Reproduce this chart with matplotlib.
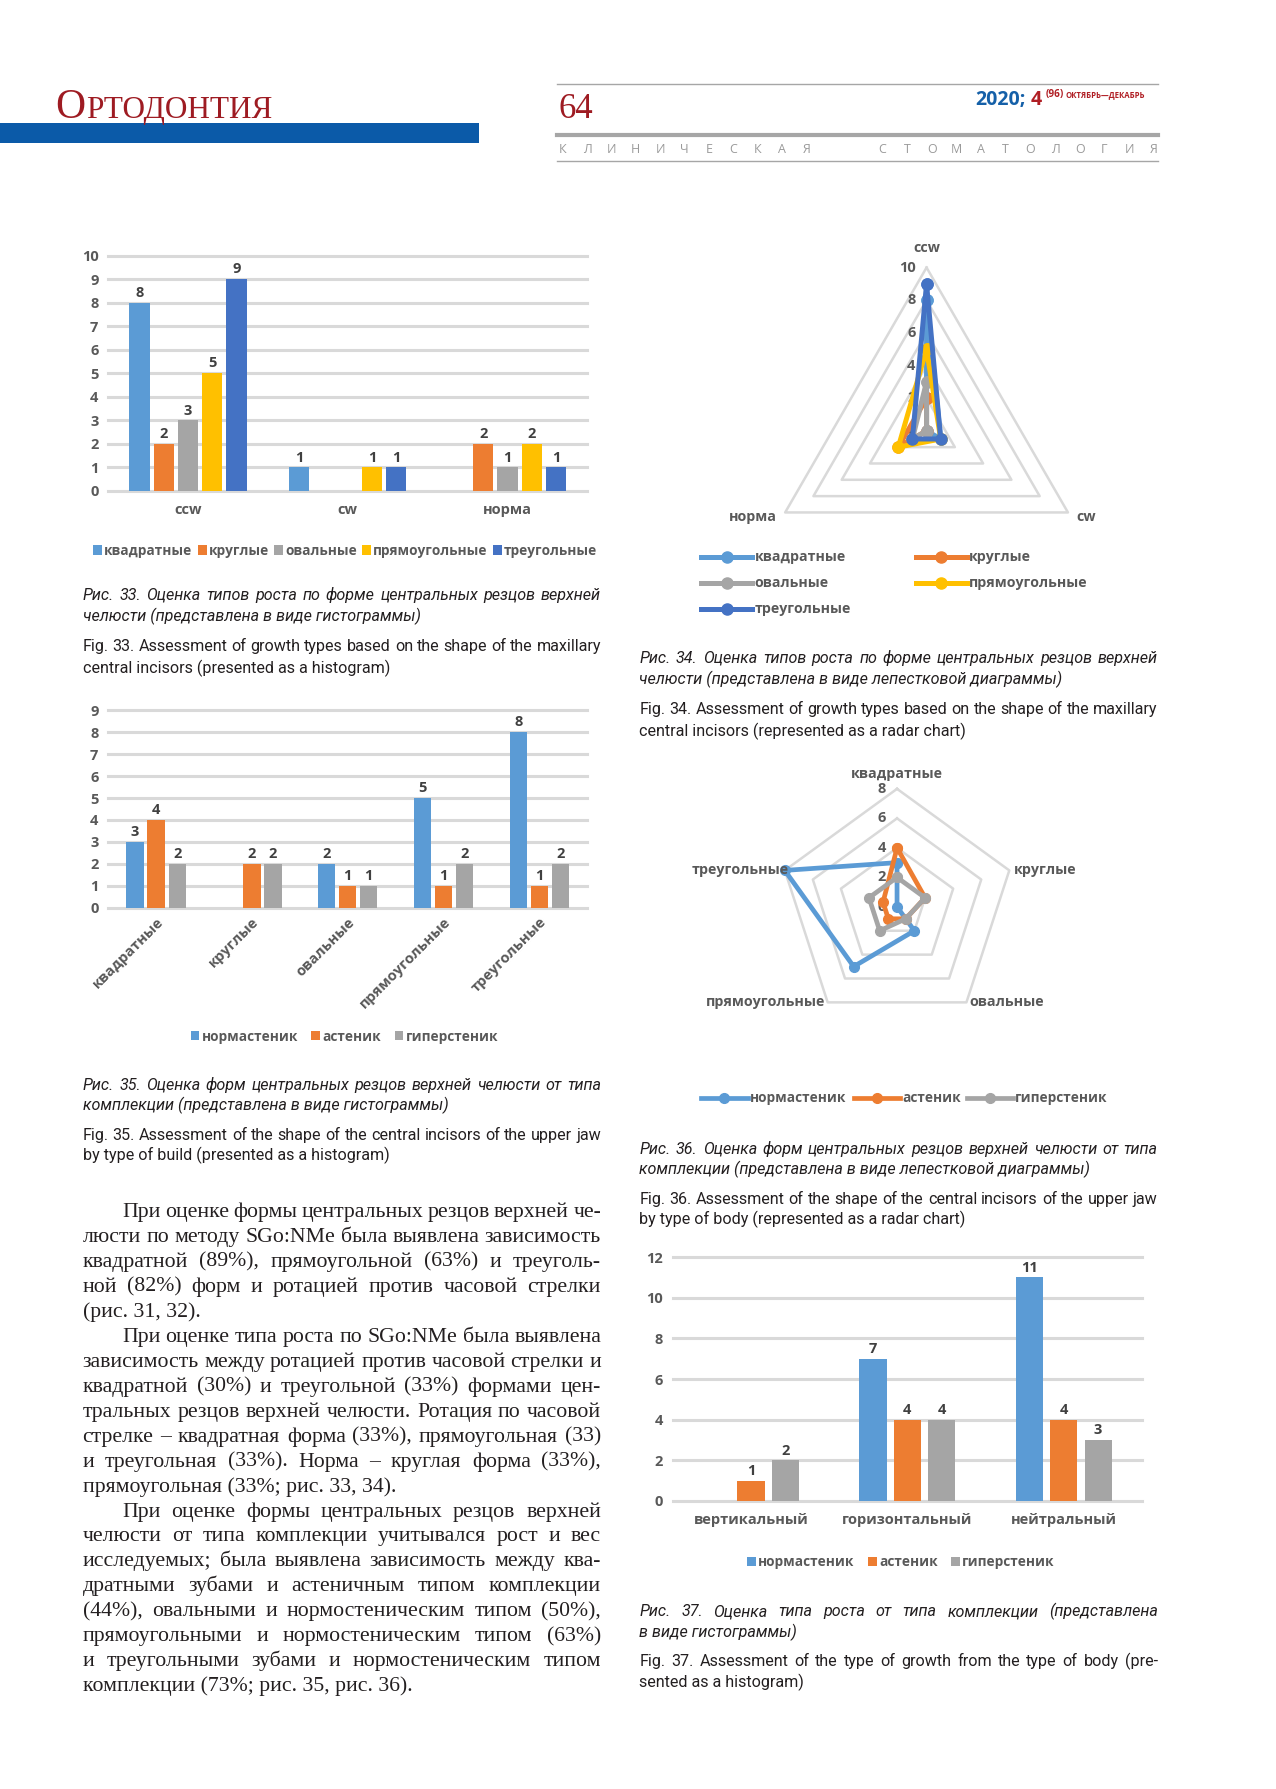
import numpy as np
import matplotlib
matplotlib.use('Agg')
import matplotlib.pyplot as plt
from matplotlib.patches import Patch, Rectangle
from matplotlib.lines import Line2D
from matplotlib.font_manager import FontProperties

# ---------------- data ----------------
growth_types = ['ccw', 'cw', 'норма']
shapes = ['квадратные', 'круглые', 'овальные', 'прямоугольные', 'треугольные']
kvadratnye = [8, 1, 0]
kruglye = [2, 0, 2]
ovalnye = [3, 0, 1]
pryamougolnye = [5, 1, 2]
treugolnye = [9, 1, 1]

builds = ['нормастеник', 'астеник', 'гиперстеник']
normastenik = [3, 0, 2, 5, 8]
astenik = [4, 2, 1, 1, 1]
giperstenik = [2, 2, 1, 2, 2]

growth37 = ['вертикальный', 'горизонтальный', 'нейтральный']
normastenik37 = [0, 7, 11]
astenik37 = [1, 4, 4]
giperstenik37 = [2, 4, 3]

shape_colors = ['#5B9BD5', '#ED7D31', '#A5A5A5', '#FFC000', '#4472C4']
build_colors = ['#5B9BD5', '#ED7D31', '#A5A5A5']

cap33_ru = ['Рис. 33. Оценка типов роста по форме центральных резцов верхней',
            'челюсти (представлена в виде гистограммы)']
cap33_en = ['Fig. 33. Assessment of growth types based on the shape of the maxillary',
            'central incisors (presented as a histogram)']
cap34_ru = ['Рис. 34. Оценка типов роста по форме центральных резцов верхней',
            'челюсти (представлена в виде лепестковой диаграммы)']
cap34_en = ['Fig. 34. Assessment of growth types based on the shape of the maxillary',
            'central incisors (represented as a radar chart)']
cap35_ru = ['Рис. 35. Оценка форм центральных резцов верхней челюсти от типа',
            'комплекции (представлена в виде гистограммы)']
cap35_en = ['Fig. 35. Assessment of the shape of the central incisors of the upper jaw',
            'by type of build (presented as a histogram)']
cap36_ru = ['Рис. 36. Оценка форм центральных резцов верхней челюсти от типа',
            'комплекции (представлена в виде лепестковой диаграммы)']
cap36_en = ['Fig. 36. Assessment of the shape of the central incisors of the upper jaw',
            'by type of body (represented as a radar chart)']
cap37_ru = ['Рис. 37. Оценка типа роста от типа комплекции (представлена',
            'в виде гистограммы)']
cap37_en = ['Fig. 37. Assessment of the type of growth from the type of body (pre-',
            'sented as a histogram)']

body = [
    ('При оценке формы центральных резцов верхней че-', True, False),
    ('люсти по методу SGo:NMe была выявлена зависимость', False, False),
    ('квадратной (89%), прямоугольной (63%) и треуголь-', False, False),
    ('ной (82%) форм и ротацией против часовой стрелки', False, False),
    ('(рис. 31, 32).', False, True),
    ('При оценке типа роста по SGo:NMe была выявлена', True, False),
    ('зависимость между ротацией против часовой стрелки и', False, False),
    ('квадратной (30%) и треугольной (33%) формами цен-', False, False),
    ('тральных резцов верхней челюсти. Ротация по часовой', False, False),
    ('стрелке – квадратная форма (33%), прямоугольная (33)', False, False),
    ('и треугольная (33%). Норма – круглая форма (33%),', False, False),
    ('прямоугольная (33%; рис. 33, 34).', False, True),
    ('При оценке формы центральных резцов верхней', True, False),
    ('челюсти от типа комплекции учитывался рост и вес', False, False),
    ('исследуемых; была выявлена зависимость между ква-', False, False),
    ('дратными зубами и астеничным типом комплекции', False, False),
    ('(44%), овальными и нормостеническим типом (50%),', False, False),
    ('прямоугольными и нормостеническим типом (63%)', False, False),
    ('и треугольными зубами и нормостеническим типом', False, False),
    ('комплекции (73%; рис. 35, рис. 36).', False, True),
]

# ---------------- page ----------------
W, H = 1276, 1789
S = 0.9836  # layout coordinates below are in a slightly larger grid
fig = plt.figure(figsize=(W / 100, H / 100), dpi=100)
renderer = fig.canvas.get_renderer()

SANS = ['Open Sans', 'DejaVu Sans']
CAP = ['Roboto', 'DejaVu Sans']
SERIF = ['Liberation Serif', 'DejaVu Serif']
GRAY = '#595959'
GRID = '#D9D9D9'
RED = '#9E1B22'


def X(x):
    return x * S / W


def Y(y):
    return 1 - y * S / H


def axes_px(x0, y0, x1, y1, **kw):
    return fig.add_axes([X(x0), Y(y1), (x1 - x0) * S / W, (y1 - y0) * S / H], **kw)


def text_width(s, **kw):
    t = fig.text(0, 0, s, **kw)
    w = t.get_window_extent(renderer).width
    t.remove()
    return w


def fit_size(line, avail, fs, **kw):
    words = line.split(' ')
    for _ in range(4):
        ws = [text_width(w_, fontsize=fs, **kw) for w_ in words]
        need = sum(ws) + 0.2 * fs * 100 / 72 * (len(words) - 1)
        if need <= avail:
            break
        fs *= avail / need
    return fs


def justified(lines, x0, x1, y0, dy, indent=0, fontsize=11, **kw):
    # lines: (text, indented, last_line); one font size for the whole block
    fs = fontsize
    for line, ind, last in lines:
        if not last:
            fs = min(fs, fit_size(line, (x1 - x0 - (indent if ind else 0)) * S, fs, **kw))
    for i, (line, ind, last) in enumerate(lines):
        yf = Y(y0 + i * dy)
        xs = (x0 + (indent if ind else 0)) * S
        xe = x1 * S
        words = line.split(' ')
        if last or len(words) == 1:
            fig.text(xs / W, yf, line, va='baseline', fontsize=fs, **kw)
            continue
        ws = [text_width(w_, fontsize=fs, **kw) for w_ in words]
        gap = (xe - xs - sum(ws)) / (len(words) - 1)
        x = xs
        for w_, wd in zip(words, ws):
            fig.text(x / W, yf, w_, va='baseline', fontsize=fs, **kw)
            x += wd + gap


def caption(ru, en, x0, x1, ys):
    lines_ru = [(ru[0], False, False), (ru[1], False, True)]
    lines_en = [(en[0], False, False), (en[1], False, True)]
    justified(lines_ru, x0, x1, ys[0], ys[1] - ys[0], family=CAP, style='italic',
              fontsize=11.6, color='#231F20')
    justified(lines_en, x0, x1, ys[2], ys[3] - ys[2], family=CAP,
              fontsize=11.6, color='#231F20')


def bar_chart(ax, cats, series, colors, width, pitch, ymax, ystep, rot=0, pad=8):
    x = np.arange(len(cats))
    n = len(series)
    for i, (vals, c) in enumerate(zip(series, colors)):
        xs = x + (i - (n - 1) / 2) * pitch
        bars = ax.bar(xs, vals, width, color=c, zorder=2)
        for b, v in zip(bars, vals):
            if v:
                ax.annotate(str(v), (b.get_x() + b.get_width() / 2, v),
                            xytext=(0, 2), textcoords='offset points',
                            ha='center', va='bottom', fontsize=10.5,
                            fontweight='bold', family=SANS, color='#404040')
    ax.set_xlim(-0.5, len(cats) - 0.5)
    ax.set_ylim(0, ymax)
    ticks = np.arange(0, ymax + ystep / 2, ystep)
    for t in ticks:
        ax.axhline(t, color=GRID, lw=2.2, zorder=1, clip_on=False)
    ax.set_yticks(ticks)
    ax.set_yticklabels([f'{t:g}' for t in ticks], fontsize=10.5, fontweight='bold',
                       family=SANS, color=GRAY)
    ax.set_xticks(x)
    if rot:
        ax.set_xticklabels(cats, rotation=rot, ha='right', rotation_mode='anchor',
                           fontsize=10.5, fontweight='bold', family=SANS, color=GRAY)
    else:
        ax.set_xticklabels(cats, fontsize=10.5, fontweight='bold', family=SANS, color=GRAY)
    ax.tick_params(axis='y', length=0, pad=7)
    ax.tick_params(axis='x', length=0, pad=pad)
    for s in ax.spines.values():
        s.set_visible(False)
    ax.patch.set_alpha(0)


def bar_legend(labels, colors, cx, cy, spacing=0.6, size=9.8):
    handles = [Patch(facecolor=c, edgecolor='none') for c in colors]
    fig.legend(handles, labels, loc='center', bbox_to_anchor=(X(cx), Y(cy)),
               ncol=len(labels), frameon=False, handlelength=0.65, handleheight=0.65,
               handletextpad=0.15, columnspacing=spacing, labelcolor=GRAY,
               prop=FontProperties(family=SANS, weight='bold', size=size))


def radar(ax, cats, series, colors, rmax, rstep, lab_pos, lw=3.4, ms=7):
    n = len(cats)
    theta = np.arange(n) * 2 * np.pi / n
    tc = np.append(theta, theta[0])
    ax.set_theta_zero_location('N')
    ax.set_theta_direction(-1)
    ax.set_ylim(0, rmax)
    ax.grid(False)
    ax.set_xticks([])
    ax.set_yticks([])
    ax.spines['polar'].set_visible(False)
    ax.patch.set_alpha(0)
    for lev in np.arange(rstep, rmax + 1e-9, rstep):
        ax.plot(tc, [lev] * (n + 1), color=GRID, lw=1.8, zorder=1, clip_on=False)
    for lev in np.arange(0, rmax + 1e-9, rstep):
        ax.annotate(f'{lev:g}', xy=(0, lev), xytext=(-8, 0), textcoords='offset points',
                    ha='right', va='center', fontsize=10.5, fontweight='bold',
                    family=SANS, color=GRAY, zorder=2)
    for vals, c in zip(series, colors):
        v = np.append(vals, vals[0])
        ax.plot(tc, v, color=c, lw=lw, marker='o', ms=ms, zorder=3, clip_on=False,
                solid_joinstyle='round')
    for th, cat, (ha, va, dx, dy) in zip(theta, cats, lab_pos):
        ax.annotate(cat, xy=(th, rmax), xytext=(dx, dy), textcoords='offset points',
                    ha=ha, va=va, fontsize=10.3, fontweight='bold', family=SANS,
                    color=GRAY, zorder=4, annotation_clip=False)


def line_legend_item(x, y, label, color, length=47, ms=7, lw=3.4, size=10.2):
    fig.add_artist(Line2D([X(x), X(x + length)], [Y(y), Y(y)], color=color, lw=lw))
    fig.add_artist(Line2D([X(x + length / 2)], [Y(y)], color=color, marker='o', ms=ms))
    fig.text(X(x + length + 2), Y(y), label, va='center', ha='left', fontsize=size,
             fontweight='bold', family=SANS, color=GRAY)


# ---------------- header ----------------
fig.add_artist(Rectangle((0, Y(145)), 487 * S / W, 20 * S / H, transform=fig.transFigure,
                         color='#0B5AA8', lw=0))
t1 = fig.text(X(56), Y(120), 'О', family=SERIF, fontsize=30, color=RED, va='baseline')
w1 = t1.get_window_extent(renderer).width
fig.text((56 * S + w1 + 1) / W, Y(120), 'РТОДОНТИЯ', family=SERIF, fontsize=22.5,
         color=RED, va='baseline')
fig.text(X(568), Y(120), '64', family=SERIF, fontsize=25, color=RED, va='baseline')
fig.add_artist(Line2D([X(566), X(1177)], [Y(85), Y(85)], color='#A6A6A6', lw=1.0))
fig.add_artist(Line2D([X(566), X(1177)], [Y(137), Y(137)], color='#A6A6A6', lw=3.0))
fig.add_artist(Line2D([X(566), X(1177)], [Y(164), Y(164)], color='#A6A6A6', lw=1.0))
x_hd = 992 * S
t2 = fig.text(x_hd / W, Y(107), '2020;', family=SANS, fontsize=14, fontweight='bold',
              color='#1560A8', va='baseline')
x_hd += t2.get_window_extent(renderer).width + 4
t3 = fig.text(x_hd / W, Y(107), '4', family=SANS, fontsize=14, fontweight='bold',
              color='#B01E24', va='baseline')
x_hd += t3.get_window_extent(renderer).width + 4
t4 = fig.text(x_hd / W, Y(99), '(96)', family=SANS, fontsize=7.2,
              fontweight='bold', color='#B01E24', va='baseline')
x_hd += t4.get_window_extent(renderer).width + 2
fig.text(x_hd / W, Y(99), 'ОКТЯБРЬ—ДЕКАБРЬ', family=SANS,
         fontsize=5.6, fontweight='bold', color='#B01E24', va='baseline')
for xs, word in ((np.linspace(572, 820, 11), 'КЛИНИЧЕСКАЯ'),
                 (np.linspace(897, 1173, 12), 'СТОМАТОЛОГИЯ')):
    for xx, ch in zip(xs, word):
        fig.text(X(xx), Y(152), ch, ha='center', va='center', family=SANS,
                 fontsize=9, color='#9A9A9A')

# ---------------- Fig. 33 ----------------
ax33 = axes_px(110, 260, 597, 499)
bar_chart(ax33, growth_types, [kvadratnye, kruglye, ovalnye, pryamougolnye, treugolnye],
          shape_colors, 0.127, 0.152, 10, 1, pad=9)
bar_legend(shapes, shape_colors, 351, 560, spacing=0.4)
caption(cap33_ru, cap33_en, 84, 611, [610, 632, 662, 684])

# ---------------- Fig. 34 ----------------
ax34 = axes_px(776, 272, 1108, 604, projection='polar')
series34 = [kvadratnye, kruglye, ovalnye, pryamougolnye, treugolnye]
radar(ax34, growth_types, series34, shape_colors, 10, 2,
      [('center', 'bottom', 0, 9), ('left', 'center', 6, -3), ('right', 'center', -6, -3)],
      lw=3.6, ms=8)
legend34 = [(713, 566, 0), (931, 566, 1), (713, 593, 2), (931, 593, 3), (713, 619, 4)]
for x, y, k in legend34:
    line_legend_item(x, y, shapes[k], shape_colors[k], length=52, ms=8, lw=3.6)
caption(cap34_ru, cap34_en, 650, 1177, [674, 696, 726, 748])

# ---------------- Fig. 35 ----------------
ax35 = axes_px(110, 722, 597, 923)
bar_chart(ax35, shapes, [normastenik, astenik, giperstenik], build_colors,
          0.18, 0.22, 9, 1, rot=45, pad=5)
bar_legend(builds, build_colors, 350, 1054, spacing=1.0)
caption(cap35_ru, cap35_en, 84, 611, [1108, 1129, 1159, 1180])

# ---------------- Fig. 36 ----------------
ax36 = axes_px(792, 802, 1032, 1042, projection='polar')
radar(ax36, shapes, [normastenik, astenik, giperstenik], build_colors, 8, 2,
      [('center', 'bottom', 0, 6), ('left', 'center', 3, 0), ('left', 'center', 2, 0),
       ('right', 'center', -2, 0), ('right', 'center', 3, 0)], lw=3.4, ms=7)
for x, k in ((713, 0), (868, 1), (983, 2)):
    line_legend_item(x, 1116, builds[k], build_colors[k], length=47, ms=7, lw=3.4,
                     size=9.8)
caption(cap36_ru, cap36_en, 650, 1177, [1173, 1194, 1224, 1245])

# ---------------- Fig. 37 ----------------
ax37 = axes_px(684, 1278, 1161, 1526)
bar_chart(ax37, growth37, [normastenik37, astenik37, giperstenik37], build_colors,
          0.174, 0.22, 12, 2, pad=9)
bar_legend(builds, build_colors, 916, 1588, spacing=1.0)
caption(cap37_ru, cap37_en, 650, 1177, [1643, 1664, 1694, 1715])

# ---------------- body text ----------------
justified(body, 84, 611, 1237, 25.4, indent=40, family=SERIF, fontsize=16.3,
          color='#231F20')

fig.savefig('out.png', dpi=100)
